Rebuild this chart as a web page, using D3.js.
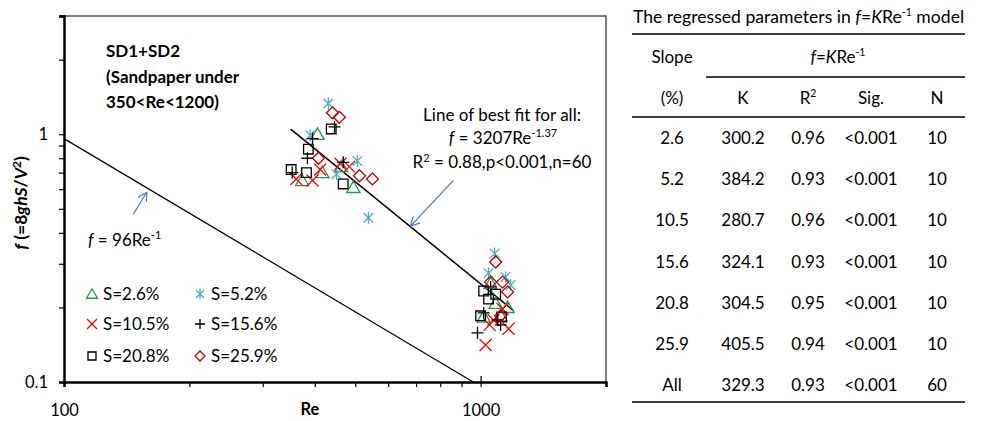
<!DOCTYPE html>
<html>
<head>
<meta charset="utf-8">
<script src="https://cdn.jsdelivr.net/npm/d3@7"></script>
<style>
  body { margin: 0; background: #fff; }
  svg text { font-family: Lato, "Open Sans", sans-serif; fill: #000; }
</style>
</head>
<body>
<svg id="chart" width="983" height="421"></svg>
<script>
// series labels
var seriesNames = ["S=2.6%", "S=5.2%", "S=10.5%", "S=15.6%", "S=20.8%", "S=25.9%"];

// Re and f for each slope
var re26 = [406, 373, 417, 495, 463, 1057, 1087, 1161, 1017, 1117];
var f26 = [1.0, 0.65, 0.70, 0.61, 0.74, 0.25, 0.208, 0.20, 0.183, 0.185];
var re52 = [431, 390, 451, 506, 538, 1081, 1045, 1148, 1181, 1057];
var f52 = [1.33, 0.99, 0.69, 0.78, 0.46, 0.33, 0.275, 0.265, 0.246, 0.235];
var re105 = [361, 395, 412, 461, 484, 1051, 1167, 1028, 1129, 1074];
var f105 = [0.66, 0.65, 0.72, 0.76, 0.74, 0.170, 0.164, 0.141, 0.197, 0.178];
var re156 = [446, 395, 384, 468, 353, 1017, 1099, 1117, 983, 1057];
var f156 = [1.07, 0.96, 0.80, 0.77, 0.70, 0.19, 0.178, 0.170, 0.158, 0.242];
var re208 = [438, 386, 351, 382, 468, 1017, 1087, 1045, 1000, 1123];
var f208 = [1.05, 0.87, 0.72, 0.70, 0.63, 0.233, 0.226, 0.216, 0.185, 0.183];
var re259 = [441, 458, 408, 512, 550, 1087, 1057, 1129, 1161, 1117];
var f259 = [1.22, 1.17, 0.80, 0.68, 0.66, 0.305, 0.253, 0.253, 0.231, 0.185];

// fitted lines
var fitK = 3207, fitB = -1.37, fitRange = [350, 1200];
var lamK = 96, lamRange = [100, 960];

// axis ticks
var xTicks = [100, 200, 300, 400, 500, 600, 700, 800, 900, 1000, 2000];
var xLabels = [100, 1000];
var yTicks = [0.1, 0.2, 0.3, 0.4, 0.5, 0.6, 0.7, 0.8, 0.9, 1, 2, 3];
var yLabels = [0.1, 1];

// table
var tabSlope = ["2.6", "5.2", "10.5", "15.6", "20.8", "25.9", "All"];
var tabK = ["300.2", "384.2", "280.7", "324.1", "304.5", "405.5", "329.3"];
var tabR2 = ["0.96", "0.93", "0.96", "0.93", "0.95", "0.94", "0.93"];
var tabSig = ["<0.001", "<0.001", "<0.001", "<0.001", "<0.001", "<0.001", "<0.001"];
var tabN = ["10", "10", "10", "10", "10", "10", "60"];

var series = [
    {name: seriesNames[0], re: re26, f: f26, shape: "tri", color: "#1e9a4f"},
    {name: seriesNames[1], re: re52, f: f52, shape: "star", color: "#4bacc6"},
    {name: seriesNames[2], re: re105, f: f105, shape: "x", color: "#ff0000"},
    {name: seriesNames[3], re: re156, f: f156, shape: "plus", color: "#000000"},
    {name: seriesNames[4], re: re208, f: f208, shape: "square", color: "#000000"},
    {name: seriesNames[5], re: re259, f: f259, shape: "diamond", color: "#c00000"}
];

function shapePath(shape, s) {
    var h = s / 2;
    if (shape == "tri") return "M0," + (-h * 1.05) + "L" + (h * 1.1) + "," + (h * 0.85) + "L" + (-h * 1.1) + "," + (h * 0.85) + "Z";
    if (shape == "square") return "M" + (-h * 0.8) + "," + (-h * 0.8) + "h" + (s * 0.8) + "v" + (s * 0.8) + "h" + (-s * 0.8) + "Z";
    if (shape == "diamond") return "M0," + (-h) + "L" + h + ",0L0," + h + "L" + (-h) + ",0Z";
    if (shape == "x") return "M" + (-h) + "," + (-h) + "L" + h + "," + h + "M" + h + "," + (-h) + "L" + (-h) + "," + h;
    if (shape == "plus") return "M" + (-h) + ",0H" + h + "M0," + (-h) + "V" + h;
    // asterisk
    return "M" + (-h * 0.8) + "," + (-h * 0.8) + "L" + (h * 0.8) + "," + (h * 0.8) + "M" + (h * 0.8) + "," + (-h * 0.8) + "L" + (-h * 0.8) + "," + (h * 0.8) + "M0," + (-h) + "V" + h;
}

var svg = d3.select("#chart");
var margin = {left: 64, top: 16, right: 983 - 606, bottom: 421 - 382};
var width = 606 - 64, height = 382 - 16;

var x = d3.scaleLog().domain([100, 2000]).range([0, width]);
var y = d3.scaleLog().domain([0.1, 3]).range([height, 0]);

var g = svg.append("g").attr("transform", "translate(" + margin.left + "," + margin.top + ")");

// frame: top and right in grey
g.append("path").attr("d", "M-4,0H" + width + "V" + height)
    .attr("fill", "none").attr("stroke", "#595959").attr("stroke-width", 1.5);

// x axis
var xAxis = g.append("g").attr("transform", "translate(0," + height + ")")
    .call(d3.axisBottom(x).tickValues(xTicks).tickSize(5).tickPadding(17)
        .tickFormat(function (d) { return xLabels.indexOf(d) >= 0 ? d : ""; }));
xAxis.select(".domain").attr("stroke", "#000").attr("stroke-width", 2.5);
xAxis.selectAll(".tick line").attr("stroke-width", 1.2)
    .attr("y1", function (d) { return d == 1000 ? -6 : 0; });
xAxis.selectAll(".tick text").style("font-size", "16.5px");

// y axis
var yAxis = g.append("g")
    .call(d3.axisLeft(y).tickValues(yTicks).tickSize(5).tickPadding(11)
        .tickFormat(function (d) { return yLabels.indexOf(d) >= 0 ? d : ""; }));
yAxis.select(".domain").attr("stroke", "#000").attr("stroke-width", 2.5);
yAxis.selectAll(".tick line").attr("stroke-width", 1.2);
yAxis.selectAll(".tick text").style("font-size", "16.5px");

// axis titles
svg.append("text").attr("x", 310).attr("y", 415).attr("text-anchor", "middle")
    .style("font-size", "16.5px").style("font-weight", "bold").text("Re");

var yt = svg.append("text").attr("transform", "translate(27,203) rotate(-90)")
    .attr("text-anchor", "middle").style("font-size", "17.5px").style("font-weight", "bold");
yt.append("tspan").style("font-style", "italic").text("f");
yt.append("tspan").text(" (=8");
yt.append("tspan").style("font-style", "italic").text("ghS");
yt.append("tspan").text("/");
yt.append("tspan").style("font-style", "italic").text("V");
yt.append("tspan").attr("dy", -6).style("font-size", "12px").text("2");
yt.append("tspan").attr("dy", 6).text(")");

// lines
var line = d3.line().x(function (d) { return x(d[0]); }).y(function (d) { return y(d[1]); });
var lamPts = lamRange.map(function (r) { return [r, lamK / r]; });
var fitPts = fitRange.map(function (r) { return [r, fitK * Math.pow(r, fitB)]; });
g.append("path").attr("d", line(lamPts)).attr("fill", "none").attr("stroke", "#000").attr("stroke-width", 1.2);
g.append("path").attr("d", line(fitPts)).attr("fill", "none").attr("stroke", "#000").attr("stroke-width", 1.5);

// points
series.forEach(function (s) {
    var pts = s.re.map(function (r, i) { return [r, s.f[i]]; });
    g.selectAll(null).data(pts).enter().append("path")
        .attr("transform", function (d) { return "translate(" + x(d[0]) + "," + y(d[1]) + ")"; })
        .attr("d", shapePath(s.shape, 12))
        .attr("fill", "none").attr("stroke", s.color).attr("stroke-width", 1.3);
});

// arrows
svg.append("defs").append("marker").attr("id", "arr").attr("viewBox", "0 0 10 10")
    .attr("refX", 9).attr("refY", 5).attr("markerWidth", 10).attr("markerHeight", 10)
    .attr("markerUnits", "userSpaceOnUse").attr("orient", "auto")
    .append("path").attr("d", "M0,0L9,5L0,10").attr("fill", "none").attr("stroke", "#4f81bd").attr("stroke-width", 1.3);
var arrows = [[[146.6, 0.475], [158, 0.583]], [[861, 0.652], [679, 0.426]]];
arrows.forEach(function (a) {
    g.append("path").attr("d", line(a)).attr("stroke", "#4f81bd").attr("stroke-width", 1.2)
        .attr("fill", "none").attr("marker-end", "url(#arr)");
});

// annotations
var ann = svg.append("text").attr("x", 106).style("font-size", "17px").style("font-weight", "bold");
["SD1+SD2", "(Sandpaper under", "350<Re<1200)"].forEach(function (t, i) {
    ann.append("tspan").attr("x", 106).attr("y", 57 + i * 25.5).text(t);
});

svg.append("text").attr("x", 502).attr("y", 121).attr("text-anchor", "middle")
    .style("font-size", "17px").text("Line of best fit for all:");
var fitTxt = svg.append("text").attr("x", 503).attr("y", 144).attr("text-anchor", "middle").style("font-size", "17px");
fitTxt.append("tspan").style("font-style", "italic").text("f");
fitTxt.append("tspan").text(" = " + fitK + "Re");
fitTxt.append("tspan").attr("dy", -7).style("font-size", "11px").text(String(fitB));
var r2Txt = svg.append("text").attr("x", 502).attr("y", 168).attr("text-anchor", "middle").style("font-size", "17px");
r2Txt.append("tspan").text("R");
r2Txt.append("tspan").attr("dy", -6).style("font-size", "11px").text("2");
r2Txt.append("tspan").attr("dy", 6).text(" = 0.88,p<0.001,n=60");

var lamTxt = svg.append("text").attr("x", 88).attr("y", 246).style("font-size", "17px");
lamTxt.append("tspan").style("font-style", "italic").text("f");
lamTxt.append("tspan").text(" = " + lamK + "Re");
lamTxt.append("tspan").attr("dy", -7).style("font-size", "11px").text("-1");

// legend
var legX = [92, 200], legY = [294, 324, 356];
series.forEach(function (s, i) {
    var lx = legX[i % 2], ly = legY[Math.floor(i / 2)];
    svg.append("path").attr("transform", "translate(" + lx + "," + ly + ")")
        .attr("d", shapePath(s.shape, 10)).attr("fill", "none").attr("stroke", s.color).attr("stroke-width", 1.3);
    svg.append("text").attr("x", lx + 11).attr("y", ly + 6).style("font-size", "17px").text(s.name);
});

// table on the right
var tl = 632, tr = 965;
var title = svg.append("text").attr("x", (tl + tr) / 2).attr("y", 23).attr("text-anchor", "middle").style("font-size", "17.6px");
title.append("tspan").text("The regressed parameters in ");
title.append("tspan").style("font-style", "italic").text("f");
title.append("tspan").text("=");
title.append("tspan").style("font-style", "italic").text("K");
title.append("tspan").text("Re");
title.append("tspan").attr("dy", -7).style("font-size", "10.5px").text("-1");
title.append("tspan").attr("dy", 7).text(" model");

function rule(x1, x2, yy) {
    svg.append("line").attr("x1", x1).attr("x2", x2).attr("y1", yy).attr("y2", yy)
        .attr("stroke", "#000").attr("stroke-width", 1.3);
}
rule(tl, tr, 34);
rule(706, tr, 77);
rule(tl, tr, 117);
rule(tl, tr, 402);

var colX = [672, 743, 808, 871, 937];
function cell(cx, cy, t) {
    return svg.append("text").attr("x", cx).attr("y", cy).attr("text-anchor", "middle").style("font-size", "17px").text(t);
}
cell(colX[0], 63, "Slope");
var hd = svg.append("text").attr("x", 838).attr("y", 63).attr("text-anchor", "middle").style("font-size", "17px");
hd.append("tspan").style("font-style", "italic").text("f");
hd.append("tspan").text("=");
hd.append("tspan").style("font-style", "italic").text("K");
hd.append("tspan").text("Re");
hd.append("tspan").attr("dy", -7).style("font-size", "10.5px").text("-1");

cell(colX[0], 104, "(%)");
cell(colX[1], 104, "K");
var r2h = svg.append("text").attr("x", colX[2]).attr("y", 104).attr("text-anchor", "middle").style("font-size", "17px");
r2h.append("tspan").text("R");
r2h.append("tspan").attr("dy", -7).style("font-size", "10.5px").text("2");
cell(colX[3], 104, "Sig.");
cell(colX[4], 104, "N");

tabSlope.forEach(function (sl, i) {
    var cy = 144 + i * 41.2;
    cell(colX[0], cy, sl);
    cell(colX[1], cy, tabK[i]);
    cell(colX[2], cy, tabR2[i]);
    cell(colX[3], cy, tabSig[i]);
    cell(colX[4], cy, tabN[i]);
});
</script>
</body>
</html>
